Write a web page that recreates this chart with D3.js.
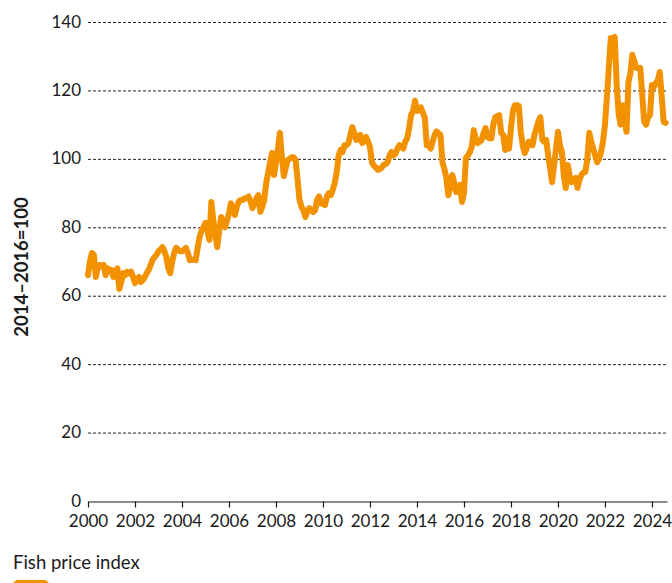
<!DOCTYPE html>
<html>
<head>
<meta charset="utf-8">
<script src="https://cdn.jsdelivr.net/npm/d3@7"></script>
<style>
  html, body { margin: 0; padding: 0; background: #fff; }
  svg { display: block; }
  text { font-family: Lato, "Noto Sans", sans-serif; fill: #1a1a1a; }
</style>
</head>
<body>
<svg id="chart" width="672" height="583"></svg>
<script>
// Monthly fish price index (2014–2016 = 100), January 2000 onwards
const startYear = 2000;
const v2000 = [66, 70, 72.5, 72, 65.5, 68.5, 69, 68.5, 69, 66, 68, 67.5];
const v2001 = [67.5, 65.5, 67, 68, 62, 64, 66.6, 66, 67, 66.5, 67, 65.5];
const v2002 = [63.7, 64.5, 65.5, 64, 64.5, 65.5, 66.6, 67.5, 69, 70.5, 71.3, 72];
const v2003 = [73, 73.5, 74.2, 73, 71.3, 68, 66.6, 70, 72.5, 74, 73.5, 73];
const v2004 = [73, 73.4, 74, 72.5, 70.4, 70.5, 70.5, 70.4, 74, 77.2, 79, 80];
const v2005 = [81.3, 79, 76.3, 87.4, 82, 78, 74.2, 79, 83, 81.5, 80, 82];
const v2006 = [84, 87, 85, 83.6, 86, 87.5, 88, 88, 88.5, 88.5, 89, 87.5];
const v2007 = [85.6, 87, 88.5, 89.4, 84.5, 86, 88, 93, 95.9, 99, 101.7, 95.3];
const v2008 = [99, 103, 107.6, 100.6, 95, 97.5, 99.7, 100, 100.5, 100.5, 99.7, 94];
const v2009 = [88, 86, 85, 83, 84.5, 85.6, 85, 84.5, 85, 88, 89, 87];
const v2010 = [86.8, 86.5, 89, 90, 89.4, 91, 93, 96, 101, 102.6, 102, 104];
const v2011 = [104, 104.6, 107, 109.3, 107.5, 105.5, 106, 107, 104.6, 105.5, 106.4, 105];
const v2012 = [103.5, 99, 98, 97.5, 96.8, 97, 97.5, 98.2, 98.5, 99, 101, 102];
const v2013 = [101, 101.5, 103, 104, 103.5, 103, 105, 106, 109, 112.8, 114, 117];
const v2014 = [114, 114.5, 115, 113.5, 112, 104, 104, 103, 105, 107, 108, 107.5];
const v2015 = [107, 99, 97, 94.4, 89.4, 92, 95.3, 93, 90.3, 91, 92.4, 87.4];
const v2016 = [90, 100.3, 101, 102, 103.5, 108.4, 106, 104.6, 105, 105.5, 107.5, 109];
const v2017 = [106.4, 106, 106, 110, 112.2, 112.5, 112.8, 107.6, 107, 102.6, 106, 103];
const v2018 = [109, 114, 115.7, 115.7, 115.5, 107.9, 104, 101.7, 103, 105, 104.5, 104];
const v2019 = [107, 109, 111, 112.2, 105.5, 105, 105.5, 101, 97.3, 93.2, 98, 103];
const v2020 = [107.9, 104, 102, 95, 91.5, 98.2, 95, 93.2, 94, 94.4, 91.5, 94];
const v2021 = [95.3, 96, 96.2, 100, 107.6, 105, 103, 101, 99, 100, 102, 105];
const v2022 = [110, 118, 127, 135.3, 135, 135.6, 121.6, 113, 110, 115.7, 112, 107.9];
const v2023 = [122.5, 125, 130.4, 128.5, 126.6, 126.5, 126.6, 119, 111, 110, 112.2, 112.8];
const v2024 = [121.6, 121, 122.2, 123, 125.4, 118, 110.8, 110.5];

const yearlyValues = [v2000, v2001, v2002, v2003, v2004, v2005, v2006, v2007, v2008,
  v2009, v2010, v2011, v2012, v2013, v2014, v2015, v2016, v2017, v2018, v2019,
  v2020, v2021, v2022, v2023, v2024];

const xTickYears = [2000, 2002, 2004, 2006, 2008, 2010, 2012, 2014, 2016, 2018, 2020, 2022, 2024];
const yTicks = [0, 20, 40, 60, 80, 100, 120, 140];
const yTitle = "2014–2016=100";
const seriesName = "Fish price index";
const lineColor = "#f39200";

// Flatten into (fractional year, value) points
const points = [];
yearlyValues.forEach((vals, yi) => {
  vals.forEach((v, mi) => points.push({ t: startYear + yi + mi / 12, v }));
});

const svg = d3.select("#chart");
const x = d3.scaleLinear().domain([2000, 2024.64]).range([88, 667]);
const y = d3.scaleLinear().domain([0, 140]).range([501, 22]);

// Dashed horizontal gridlines (above zero)
svg.append("g")
  .selectAll("line")
  .data(yTicks.filter(d => d > 0))
  .join("line")
  .attr("x1", x.range()[0])
  .attr("x2", x.range()[1])
  .attr("y1", d => y(d) + 0.5)
  .attr("y2", d => y(d) + 0.5)
  .attr("stroke", "#222")
  .attr("stroke-width", 1)
  .attr("stroke-dasharray", "3,2");

// Y tick labels
const yAxis = d3.axisLeft(y).tickValues(yTicks).tickSize(0).tickPadding(0);
const gy = svg.append("g").attr("transform", "translate(81,0)").call(yAxis);
gy.select(".domain").remove();
gy.selectAll("text")
  .attr("font-size", 17)
  .attr("font-family", "Lato, 'Noto Sans', sans-serif")
  .attr("fill", "#1a1a1a")
  .attr("dy", "0.3em");

// X axis at zero
const xAxis = d3.axisBottom(x).tickValues(xTickYears).tickFormat(d3.format("d")).tickSize(6).tickSizeOuter(0).tickPadding(7);
const gx = svg.append("g").attr("transform", `translate(0,${y(0) + 0.5})`).call(xAxis);
gx.select(".domain").attr("stroke", "#1a1a1a").attr("stroke-width", 1.2);
gx.selectAll(".tick line").attr("stroke", "#1a1a1a").attr("stroke-width", 1.2);
gx.selectAll("text")
  .attr("font-size", 17)
  .attr("font-family", "Lato, 'Noto Sans', sans-serif")
  .attr("fill", "#1a1a1a");

// Y axis title
svg.append("text")
  .attr("transform", "translate(28,267) rotate(-90)")
  .attr("text-anchor", "middle")
  .attr("font-size", 18.5)
  .attr("font-weight", "bold")
  .text(yTitle);

// Series line
const line = d3.line().x(d => x(d.t)).y(d => y(d.v));
svg.append("path")
  .datum(points)
  .attr("d", line)
  .attr("fill", "none")
  .attr("stroke", lineColor)
  .attr("stroke-width", 6)
  .attr("stroke-linejoin", "round")
  .attr("stroke-linecap", "round");

// Legend
svg.append("text")
  .attr("x", 13)
  .attr("y", 569)
  .attr("font-size", 18.5)
  .text(seriesName);
svg.append("rect")
  .attr("x", 13)
  .attr("y", 580)
  .attr("width", 36)
  .attr("height", 12)
  .attr("rx", 5)
  .attr("fill", lineColor);
</script>
</body>
</html>
